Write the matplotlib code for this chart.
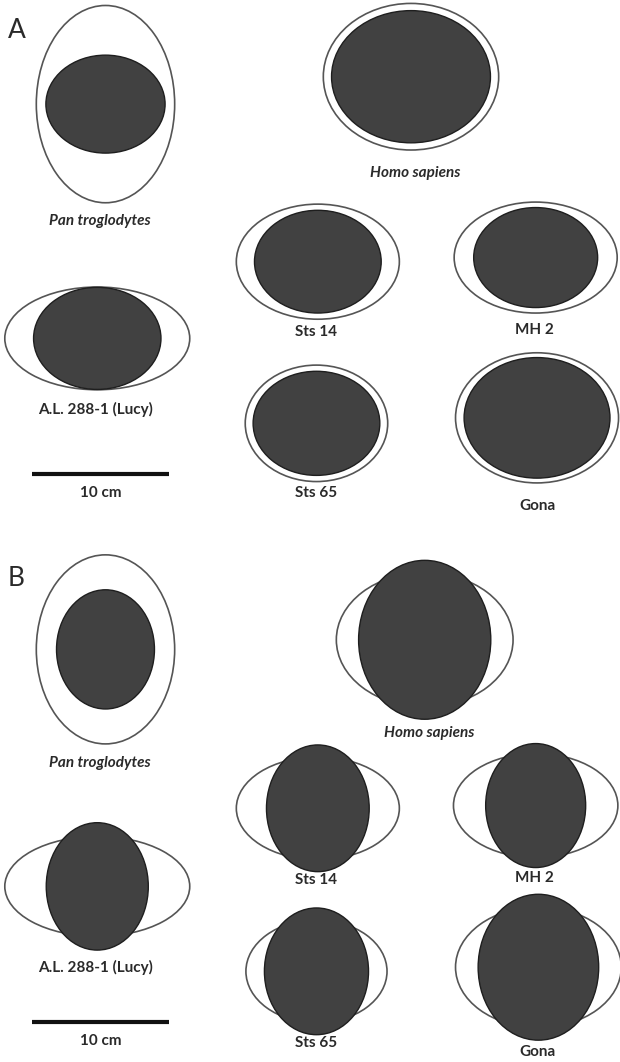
import matplotlib.pyplot as plt
from matplotlib.patches import Ellipse

# specimens, same order in both panels
names = ['Pan troglodytes', 'Homo sapiens', 'Sts 14', 'MH 2',
         'A.L. 288-1 (Lucy)', 'Sts 65', 'Gona']
italic = [True, True, False, False, False, False, False]

# neonatal head (cm): length, breadth
head_len = [8.7, 11.6, 9.25, 9.05, 9.3, 9.25, 10.65]
head_brd = [7.15, 9.65, 7.5, 7.3, 7.45, 7.6, 8.8]

# birth canal (cm): panel A = inlet, panel B = outlet
inlet_w = [10.1, 12.8, 11.9, 11.9, 13.5, 10.4, 11.9]
inlet_h = [14.4, 10.7, 8.4, 8.1, 7.5, 8.5, 9.5]
outlet_w = [10.1, 12.9, 11.9, 12.0, 13.5, 10.3, 12.1]
outlet_h = [13.8, 9.8, 7.5, 7.6, 7.3, 7.5, 8.8]

scale_cm = 10

# layout (cm on the page)
cx_a = [7.7, 30.0, 23.2, 39.1, 7.1, 23.1, 39.2]
cy_a = [7.6, 5.6, 19.1, 18.8, 24.7, 30.9, 30.5]
lx_a = [7.3, 30.3, 23.1, 39.0, 7.0, 23.1, 39.2]
ly_a = [16.1, 12.6, 24.2, 24.1, 29.9, 36.0, 36.9]

cx_b = [7.7, 31.0, 23.2, 39.1, 7.1, 23.1, 39.3]
cy_b = [47.4, 46.7, 59.0, 58.8, 64.7, 70.9, 70.6]
lx_b = [7.3, 31.3, 23.1, 39.0, 7.0, 23.1, 39.2]
ly_b = [55.7, 53.5, 64.2, 64.1, 70.6, 76.1, 76.8]

PX_PER_CM = 13.7
fig = plt.figure(figsize=(6.2, 10.62), dpi=100)
ax = fig.add_axes([0, 0, 1, 1])
ax.set_xlim(0, 620 / PX_PER_CM)
ax.set_ylim(1062 / PX_PER_CM, 0)
ax.set_aspect('equal')
ax.axis('off')

FONT = 'Lato'
TXT = '#2a2a2a'


def draw_panel(cx, cy, ow, oh, iw, ih, lx, ly, letter, letter_y, bar_y):
    for i, name in enumerate(names):
        ax.add_patch(Ellipse((cx[i], cy[i]), ow[i], oh[i], facecolor='white',
                             edgecolor='#555555', lw=1.2, zorder=1))
        ax.add_patch(Ellipse((cx[i], cy[i]), iw[i], ih[i], facecolor='#414141',
                             edgecolor='#1e1e1e', lw=1.0, zorder=2))
        ax.text(lx[i], ly[i], name, ha='center', va='center', fontsize=11,
                fontweight='bold', family=FONT, color=TXT,
                style='italic' if italic[i] else 'normal')
    ax.text(1.2, letter_y, letter, ha='center', va='center', fontsize=19,
            family=FONT, color=TXT)
    # scale bar
    ax.plot([2.35, 2.35 + scale_cm], [bar_y, bar_y], color='#111111', lw=3,
            solid_capstyle='butt')
    ax.text(2.35 + scale_cm / 2, bar_y + 1.4, f'{scale_cm} cm', ha='center',
            va='center', fontsize=11, fontweight='bold', family=FONT,
            color=TXT)


# A: inlet, head lying length-wise
draw_panel(cx_a, cy_a, inlet_w, inlet_h, head_len, head_brd,
           lx_a, ly_a, 'A', 2.2, 34.6)
# B: outlet, head rotated
draw_panel(cx_b, cy_b, outlet_w, outlet_h, head_brd, head_len,
           lx_b, ly_b, 'B', 42.2, 74.6)

fig.savefig('out.png', dpi=100, facecolor='white')
